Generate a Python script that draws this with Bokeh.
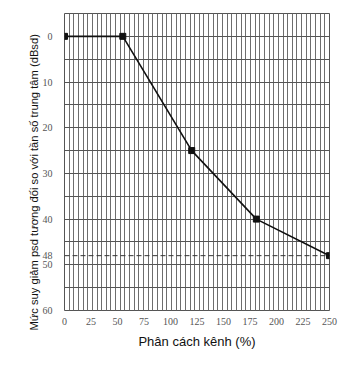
import numpy as np
from bokeh.plotting import figure
from bokeh.models import Range1d, FixedTicker, Title
from bokeh.embed import file_html
from bokeh.resources import INLINE

# data
sep_pct = [0, 55, 120, 181, 250]
atten_db = [0, 0, 25, 40, 48]
limit_db = 48
x_ticks = [0, 25, 50, 75, 100, 125, 150, 175, 200, 225, 250]
y_ticks = [0, 10, 20, 30, 40, 48, 50, 60]
y_title = "Mức suy giảm psd tương đối so với tần số trung tâm (dBsd)"

p = figure(width=359, height=369, output_backend="svg", toolbar_location=None,
           x_range=Range1d(0, 250), y_range=Range1d(60, -5),
           min_border_left=64, min_border_right=30, min_border_top=13, min_border_bottom=59)
p.background_fill_color = "white"
p.border_fill_color = "white"
p.outline_line_color = "#555555"
p.outline_line_width = 1

# grids
p.xgrid.ticker = FixedTicker(ticks=list(np.linspace(0, 250, 58)))
p.ygrid.ticker = FixedTicker(ticks=list(range(-5, 61, 5)))
p.xgrid.grid_line_color = "#6e6e6e"
p.ygrid.grid_line_color = "#555555"
p.xgrid.grid_line_width = 1
p.ygrid.grid_line_width = 1

for ax in (p.xaxis, p.yaxis):
    ax.axis_line_color = None
    ax.major_tick_line_color = None
    ax.minor_tick_line_color = None
    ax.major_label_text_font = "Liberation Serif"
    ax.major_label_text_font_size = "10px"
    ax.major_label_text_color = "#555555"
    ax.axis_label_text_font = "Liberation Sans"
    ax.axis_label_text_font_style = "normal"
    ax.axis_label_text_color = "#111111"

p.xaxis.ticker = FixedTicker(ticks=x_ticks)
p.yaxis.ticker = FixedTicker(ticks=y_ticks)
p.xaxis.major_label_standoff = 1
p.yaxis.major_label_standoff = 6
p.xaxis.axis_label = "Phân cách kênh (%)"
p.xaxis.axis_label_text_font_size = "13px"
p.xaxis.axis_label_standoff = 6

ytitle = Title(text=y_title, align="left", offset=-20, standoff=0,
               text_font="Liberation Sans", text_font_size="11.2px",
               text_font_style="normal", text_color="#111111")
p.add_layout(ytitle, "left")

p.line([x_ticks[0], x_ticks[-1]], [limit_db, limit_db], line_color="#333333",
       line_width=1, line_dash="5 3")
p.line(sep_pct, atten_db, line_color="#111111", line_width=1.6)
p.scatter(sep_pct, atten_db, marker="square", size=6, color="#111111")

open("out.html", "w").write(file_html(p, INLINE))
